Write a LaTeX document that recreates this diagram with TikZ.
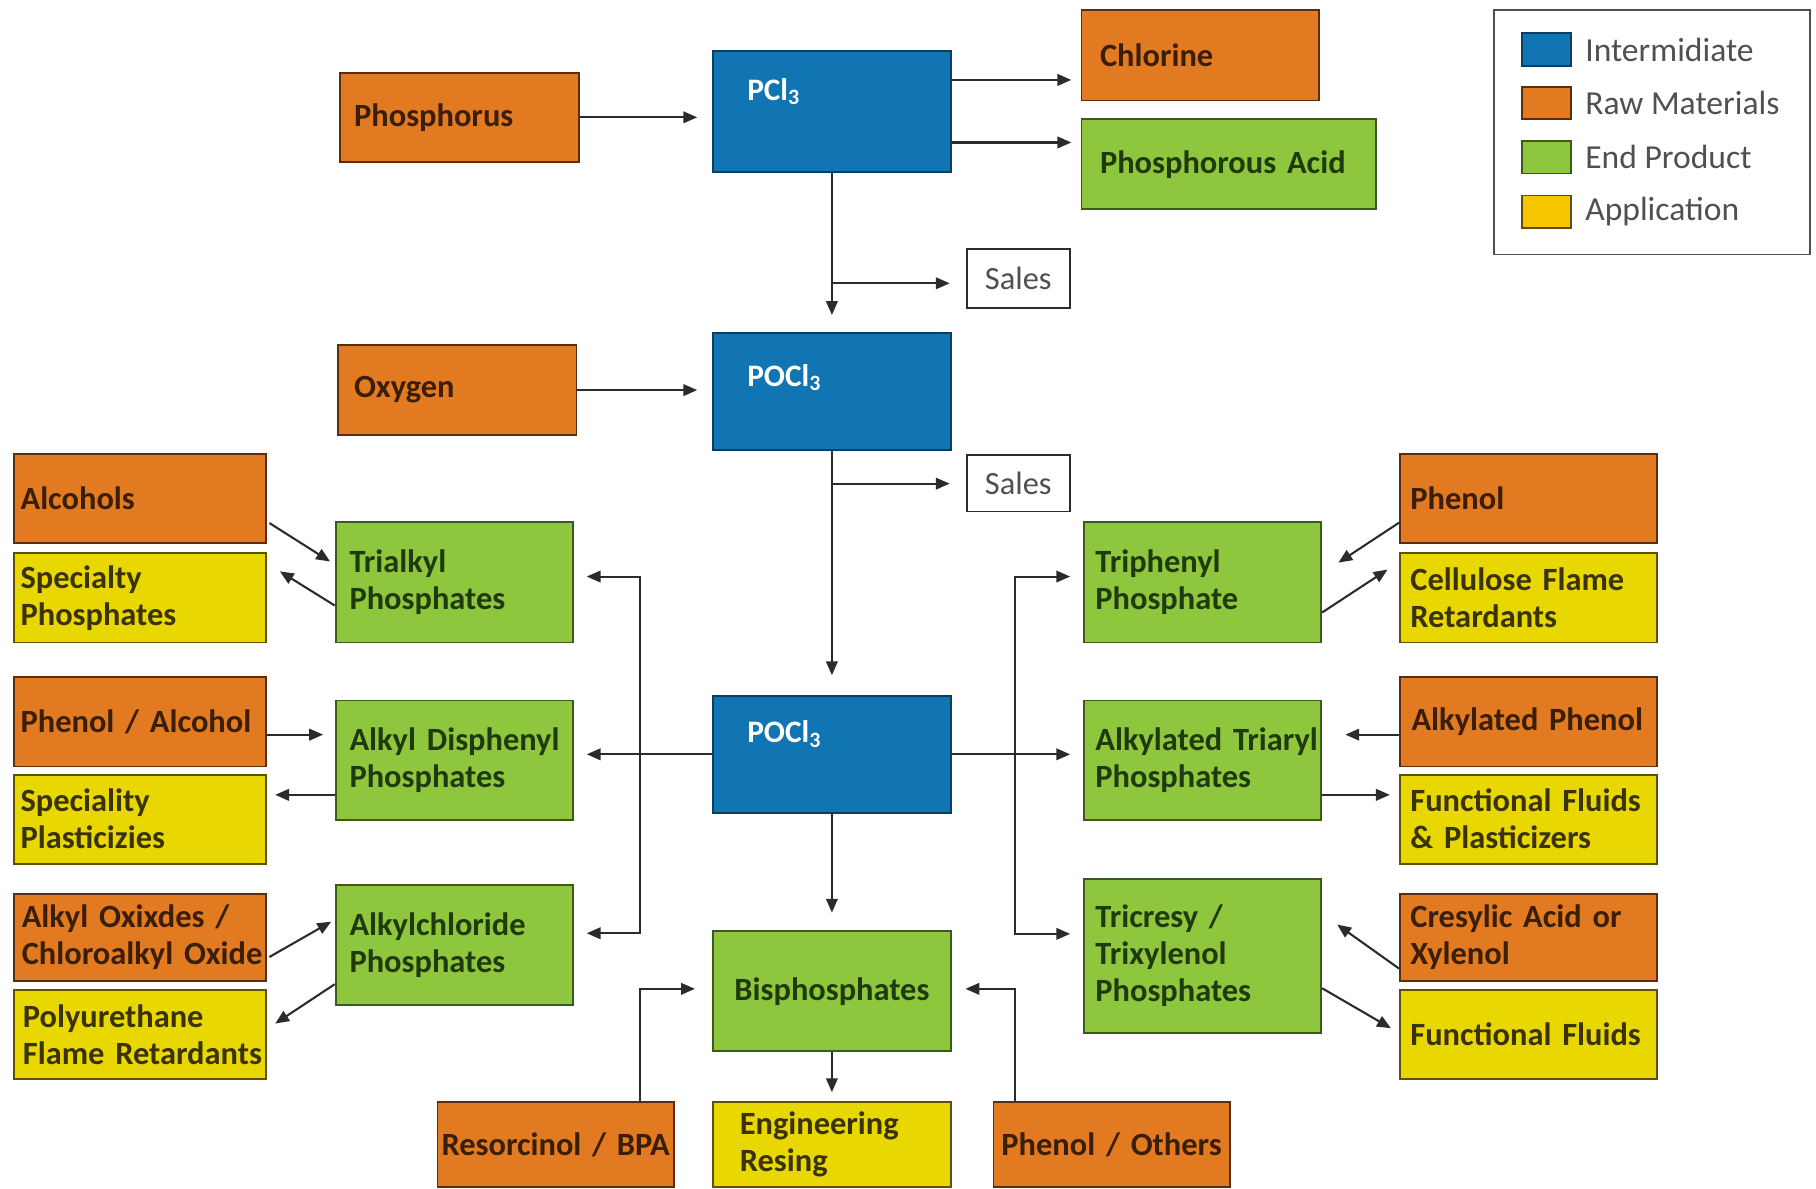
\documentclass[tikz,border=0pt]{standalone}
\usepackage{fontspec}
\setmainfont{Carlito}
\usetikzlibrary{arrows.meta,calc}
\definecolor{intc}{HTML}{1075B2}
\definecolor{intd}{HTML}{0B3F62}
\definecolor{rawc}{HTML}{E27A21}
\definecolor{rawd}{HTML}{5A2E0C}
\definecolor{rawt}{HTML}{3A1E06}
\definecolor{endc}{HTML}{8EC63E}
\definecolor{endd}{HTML}{3D5A1E}
\definecolor{endt}{HTML}{1F3A0C}
\definecolor{appc}{HTML}{E8D700}
\definecolor{appd}{HTML}{5C5200}
\definecolor{appt}{HTML}{3A3300}
\definecolor{legapp}{HTML}{F5C600}
\definecolor{linec}{HTML}{2B2B2B}
\definecolor{grayt}{HTML}{505050}
\newcommand\boxfont{\bfseries\fontsize{28}{32}\selectfont}
\hyphenpenalty=10000
\exhyphenpenalty=10000
\hbadness=10000
\hfuzz=200pt
\tikzset{
  base/.style={draw, line width=1.6pt, anchor=north west, inner xsep=8pt, inner ysep=0pt,
    align=left, font=\boxfont},
  rawbox/.style={base, fill=rawc, draw=rawd, text=rawt},
  endbox/.style={base, fill=endc, draw=endd, text=endt},
  appbox/.style={base, fill=appc, draw=appd, text=appt},
  intbox/.style={base, fill=intc, draw=intd},
  salesbox/.style={draw=linec, line width=1.5pt, fill=white, anchor=north west, inner sep=0pt,
    align=center, text=grayt, font=\fontsize{28}{32}\selectfont,
    minimum width=89pt},
  lbl/.style={anchor=west, inner sep=0pt, text=white, font=\bfseries\fontsize{27}{30}\selectfont},
  sw/.style={draw, line width=1.6pt, anchor=north west, minimum width=43pt, minimum height=28pt, inner sep=0pt},
  legtext/.style={anchor=west, inner sep=0pt, text=grayt, font=\fontsize{29}{32}\selectfont},
  szl/.style={minimum width=218pt, minimum height=77pt, inner xsep=6pt, text width=206pt},
  szg/.style={minimum width=205pt, minimum height=104pt, text width=189pt},
  szr/.style={minimum width=222pt, minimum height=77pt, text width=206pt},
  arr/.style={draw=linec, line width=1.8pt, -{Triangle[length=12pt,width=10pt]}},
}
\begin{document}
\begin{tikzpicture}[x=1pt,y=-1pt]
\useasboundingbox (0,0) rectangle (1568,1026);

% top
\node[rawbox, minimum width=206pt, minimum height=77pt, inner xsep=12pt, text width=182pt] (phos) at (293,62) {Phosphorus};
\node[intbox, minimum width=205pt, minimum height=105pt] (pcl) at (615,43) {};
\node[lbl] (pcllbl) at ($(pcl.north west)+(30,36)$) {PCl\textsubscript{3}};
\node[rawbox, minimum width=205pt, minimum height=78pt, inner xsep=16pt, text width=173pt] (chl) at (933,8) {Chlorine};
\node[endbox, minimum width=254pt, minimum height=78pt, inner xsep=16pt, text width=222pt] (pacid) at (933,102) {Phosphorous~Acid};
\node[salesbox, minimum height=51pt] (sales1) at (834,214) {Sales};
\node[rawbox, minimum width=206pt, minimum height=78pt, inner xsep=14pt, text width=178pt] (oxy) at (291,297) {Oxygen};
\node[intbox, minimum width=205pt, minimum height=101pt] (pocla) at (615,287) {};
\node[lbl] (poclalbl) at ($(pocla.north west)+(30,39)$) {POCl\textsubscript{3}};
\node[salesbox, minimum height=49pt] (sales2) at (834,392) {Sales};

% left side
\node[rawbox, szl] (alc) at (11,391) {Alcohols};
\node[appbox, szl] (spph) at (11,477) {Specialty\\Phosphates};
\node[endbox, szg, inner xsep=12pt, text width=181pt] (tri) at (289,450) {Trialkyl\\Phosphates};
\node[rawbox, szl] (phal) at (11,584) {Phenol~/~Alcohol};
\node[appbox, szl] (sppl) at (11,668) {Speciality\\Plasticizies};
\node[endbox, szg, minimum height=103pt, inner xsep=12pt, text width=181pt] (adp) at (289,604) {Alkyl~Disphenyl\\Phosphates};
\node[rawbox, szl, minimum height=75pt, inner xsep=7pt, text width=204pt] (aox) at (11,771) {Alkyl~Oxixdes~/\\Chloroalkyl~Oxide};
\node[appbox, szl, inner xsep=8pt, text width=202pt] (pur) at (11,854) {Polyurethane\\Flame~Retardants};
\node[endbox, szg, inner xsep=12pt, text width=181pt] (acp) at (289,763) {Alkylchloride\\Phosphates};

% center
\node[intbox, minimum width=205pt, minimum height=101pt] (poclb) at (615,600) {};
\node[lbl] (poclblbl) at ($(poclb.north west)+(30,34)$) {POCl\textsubscript{3}};
\node[endbox, szg, align=center] (bis) at (615,803) {Bisphosphates};
\node[rawbox, minimum width=204pt, minimum height=73pt, inner xsep=2pt, text width=200pt, align=center] (res) at (377,951) {Resorcinol~/~BPA};
\node[appbox, minimum width=205pt, minimum height=73pt, inner xsep=23pt, text width=159pt] (eng) at (615,951) {Engineering\\Resing};
\node[rawbox, minimum width=204pt, minimum height=73pt, inner xsep=2pt, text width=200pt, align=center] (pot) at (857,951) {Phenol~/~Others};

% right side
\node[endbox, szg, inner xsep=10pt, text width=185pt] (tph) at (935,450) {Triphenyl\\Phosphate};
\node[endbox, szg, minimum height=103pt, inner xsep=10pt, text width=185pt] (atp) at (935,604) {Alkylated~Triaryl\\Phosphates};
\node[endbox, szg, minimum height=133pt, inner xsep=10pt, text width=185pt] (tcr) at (935,758) {Tricresy~/\\Trixylenol\\Phosphates};
\node[rawbox, szr, inner xsep=9pt, text width=204pt] (phe) at (1208,391) {Phenol};
\node[appbox, szr, inner xsep=9pt, text width=204pt] (cel) at (1208,477) {Cellulose~Flame\\Retardants};
\node[rawbox, szr, inner xsep=10pt, text width=202pt] (aph) at (1208,584) {Alkylated~Phenol};
\node[appbox, szr, inner xsep=9pt, text width=204pt] (ffp) at (1208,668) {Functional~Fluids\\\&~Plasticizers};
\node[rawbox, szr, minimum height=75pt, inner xsep=9pt, text width=204pt] (cre) at (1208,771) {Cresylic~Acid~or\\Xylenol};
\node[appbox, szr, inner xsep=9pt, text width=204pt] (ff) at (1208,854) {Functional~Fluids};

% legend
\node[draw=grayt, line width=1.5pt, anchor=north west, minimum width=273pt, minimum height=211pt, inner sep=0pt] (leg) at (1289,8) {};
\node[sw, fill=intc, draw=intd] (sw1) at (1313,28) {};
\node[sw, fill=rawc, draw=rawd] (sw2) at (1313,74) {};
\node[sw, fill=endc, draw=endd] (sw3) at (1313,121) {};
\node[sw, fill=legapp, draw=appd] (sw4) at (1313,168) {};
\node[legtext] (lt1) at ($(sw1.east)+(11,0)$) {Intermidiate};
\node[legtext] (lt2) at ($(sw2.east)+(11,0)$) {Raw Materials};
\node[legtext] (lt3) at ($(sw3.east)+(11,0)$) {End Product};
\node[legtext] (lt4) at ($(sw4.east)+(11,0)$) {Application};

% connectors: top
\draw[arr, shorten >=13pt] (phos.east) -- (phos.east -| pcl.west);
\draw[arr, shorten >=8pt] ($(pcl.north east)+(0,26)$) coordinate (c1) -- (c1 -| chl.west);
\draw[arr, shorten >=8pt] ($(pcl.north east)+(0,80)$) coordinate (c2) -- (c2 -| pacid.west);
\draw[arr, shorten >=15pt] (pcl.south) -- (pocla.north);
\draw[arr, shorten >=14pt] ($(pcl.south)+(0,95)$) coordinate (b1) -- (b1 -| sales1.west);
\draw[arr, shorten >=13pt] (oxy.east) -- (oxy.east -| pocla.west);
\draw[arr, shorten >=17pt] (pocla.south) -- (poclb.north);
\draw[arr, shorten >=14pt] ($(pocla.south)+(0,28)$) coordinate (b2) -- (b2 -| sales2.west);

% connectors: center
\draw[arr, shorten >=11pt] (poclb.west) -- (poclb.west -| adp.east);
\draw[arr, shorten >=11pt] (poclb.east) -- (poclb.east -| atp.west);
\draw[arr, shorten >=15pt] (poclb.south) -- (bis.north);
\coordinate (lv) at ($(poclb.west -| adp.east)+(57,0)$);
\draw[arr, shorten >=11pt] (lv) |- ($(tri.east)+(0,-5)$);
\draw[arr, shorten >=11pt] (lv) |- ($(acp.east)+(0,-10)$);
\coordinate (rv) at ($(poclb.east -| atp.west)+(-59,0)$);
\draw[arr, shorten >=11pt] (rv) |- ($(tph.west)+(0,-5)$);
\draw[arr, shorten >=11pt] (rv) |- ($(tcr.west)+(0,-19)$);
\draw[arr, shorten >=15pt] ($(res.north east)+(-30,0)$) |- ($(bis.west)+(0,-2)$);
\draw[arr, shorten >=12pt] ($(pot.north west)+(19,0)$) |- ($(bis.east)+(0,-2)$);
\draw[arr, shorten >=8pt] (bis.south) -- (eng.north);

% connectors: left
\draw[arr] ($(alc.south east)+(2,-18)$) -- ($(tri.west)+(-4,-18)$);
\draw[arr] ($(tri.west)+(0,20)$) -- ($(spph.east)+(11,-23)$);
\draw[arr, shorten >=10pt] ($(phal.east)+(0,11)$) coordinate (c3) -- (c3 -| adp.west);
\draw[arr, shorten >=7pt] ($(adp.west)+(0,30)$) coordinate (c4) -- (c4 -| sppl.east);
\draw[arr] ($(aox.east)+(2,17)$) -- ($(acp.west)+(-3,-20)$);
\draw[arr] ($(acp.west)+(0,34)$) -- ($(pur.east)+(7,-9.5)$);

% connectors: right
\draw[arr] ($(phe.west)+(0,21)$) -- ($(tph.east)+(14,-17)$);
\draw[arr] ($(tph.east)+(0,26)$) -- ($(cel.west)+(-10,-24.5)$);
\draw[arr, shorten >=20pt] ($(aph.west)+(0,11)$) coordinate (c5) -- (c5 -| atp.east);
\draw[arr, shorten >=8pt] ($(atp.east)+(0,30)$) coordinate (c6) -- (c6 -| ffp.west);
\draw[arr] ($(cre.west)+(0,27)$) -- ($(tcr.east)+(13,-27)$);
\draw[arr] ($(tcr.east)+(0,28)$) -- ($(ff.west)+(-7,-5.5)$);
\end{tikzpicture}
\end{document}
